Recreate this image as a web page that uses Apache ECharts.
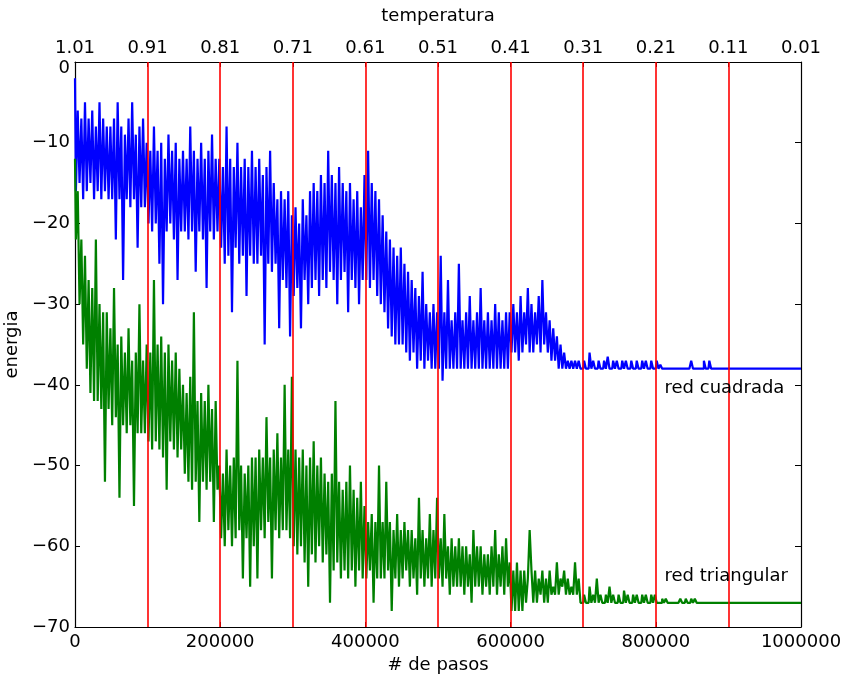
<!DOCTYPE html>
<html><head><meta charset="utf-8">
<script src="https://cdn.jsdelivr.net/npm/echarts@6/dist/echarts.min.js"></script>
<style>html,body{margin:0;padding:0;background:#fff}#c{width:847px;height:676px}</style>
</head><body><div id="c"></div>
<script>
// sampling stride of the recorded runs (# de pasos between samples)
const PASO = 2500;

const energiaCuadrada = [
-2, -16, -6, -15, -7, -17, -5, -16, -7, -15, -6, -17, -8, -16, -5, -17, -7, -16, -8, -17,
-8, -17, -7, -22, -5, -17, -8, -27, -9, -17, -7, -18, -5, -17, -9, -23, -8, -18, -7, -18,
-10, -20, -11, -21, -8, -20, -11, -25, -10, -30, -12, -21, -9, -20, -11, -22, -10, -27, -12, -21,
-11, -21, -12, -22, -8, -21, -11, -26, -12, -21, -10, -22, -12, -28, -11, -21, -9, -22, -12, -21,
-12, -23, -13, -25, -8, -24, -12, -31, -13, -23, -10, -25, -13, -24, -12, -29, -13, -24, -11, -25,
-13, -25, -12, -24, -14, -35, -13, -25, -11, -26, -15, -25, -17, -33, -16, -27, -17, -28, -16, -34,
-19, -29, -18, -28, -20, -33, -17, -27, -19, -30, -16, -28, -15, -27, -16, -29, -14, -27, -15, -28,
-11, -26, -14, -27, -15, -30, -13, -27, -15, -26, -16, -31, -15, -27, -17, -28, -16, -30, -18, -27,
-14, -27, -11, -28, -15, -27, -16, -29, -17, -30, -19, -31, -21, -33, -22, -34, -23, -35, -24, -35,
-23, -35, -25, -36, -26, -37, -27, -36, -28, -38, -29, -37, -26, -38, -30, -37, -31, -38, -30, -38,
-31, -38, -24, -39.5, -31, -38, -27, -38, -32, -38, -31, -38, -25, -38, -32, -38, -31, -38, -29, -38,
-32, -38, -31, -38, -28, -38, -32, -38, -31, -38, -32, -38, -30, -38, -31, -38, -32, -38, -31, -38,
-31, -36, -30, -36, -31, -37, -29, -36, -31, -35, -28, -36, -30, -36, -31, -35, -29, -36, -27, -35,
-31, -36, -32, -37, -33, -37, -34, -38, -35, -38, -36, -38, -37, -38, -37, -38, -37, -38, -37, -38,
-38, -37, -38, -38, -36, -38, -37, -38, -38, -37, -38, -38, -37, -38, -36.5, -38, -38, -37, -38, -37,
-38, -38, -37, -38, -37, -38, -38, -37, -38, -38, -37, -38, -38, -37, -38, -37, -38, -38, -37, -38,
-38, -37, -38, -37.5, -38, -38, -38, -38, -38, -38, -38, -38, -38, -38, -38, -38, -38, -38, -38, -38,
-37, -38, -38, -38, -38, -38, -38, -37, -38, -38, -37, -38, -38, -38, -38, -38, -38, -38, -38, -38,
-38, -38, -38, -38, -38, -38, -38, -38, -38, -38, -38, -38, -38, -38, -38, -38, -38, -38, -38, -38,
-38, -38, -38, -38, -38, -38, -38, -38, -38, -38, -38, -38, -38, -38, -38, -38, -38, -38, -38, -38,
-38
];

const energiaTriangular = [
-12, -22, -16, -30, -22, -35, -24, -38, -27, -41, -28, -42, -22, -42, -30, -43, -31, -52, -31, -43,
-33, -45, -28, -44, -35, -54, -34, -45, -36, -46, -33, -45, -37, -55, -36, -46, -30, -46, -37, -46,
-35, -47, -36, -48, -27, -47, -35, -48, -34, -49, -36, -53, -35, -47, -37, -48, -36, -49, -38, -48,
-40, -51, -41, -52, -39, -53, -31, -52, -42, -57, -41, -52, -42, -53, -40, -52, -43, -57, -42, -53,
-50, -59, -51, -60, -48, -58, -50, -60, -49, -59, -37, -58, -50, -64, -51, -59, -50, -65, -49, -60,
-49, -64, -48, -58, -49, -59, -44, -57, -49, -64, -48, -58, -46, -59, -49, -58, -40, -58, -48, -59,
-39, -60, -48, -61, -49, -60, -48, -62, -50, -65, -49, -61, -47, -62, -50, -60, -49, -62, -51, -61,
-52, -67, -51, -63, -42, -62, -52, -64, -53, -63, -52, -64, -50, -63, -53, -65, -54, -63, -52, -64,
-55, -64, -57, -63, -56, -67, -57, -64, -50, -64, -57, -64, -52, -63, -57, -68, -58, -64, -56, -65,
-58, -64, -57, -63, -58, -65, -58, -64, -59, -66, -54, -64, -58, -65, -59, -64, -56, -65, -58, -64,
-54, -64, -59, -65, -56, -64, -60, -66, -59, -65, -60, -65, -59, -65, -60, -66, -60, -65, -61, -67,
-58, -65, -60, -65, -60, -66, -61, -65, -61, -66, -60, -65, -58, -66, -61, -65, -60, -66, -59, -65,
-62, -68, -63, -68, -62, -68, -63, -68, -63, -67, -64, -58, -63, -67, -63, -67, -64, -66, -63, -67,
-64, -67, -63, -66, -65, -66, -62, -66, -64, -65, -63, -66, -64, -66, -65, -66, -62, -66, -64, -67,
-67, -66, -67, -67, -65, -67, -66, -67, -64, -67, -66, -67, -67, -66, -67, -65, -67, -66, -67, -67,
-66, -67, -67, -65.5, -67, -66, -67, -67, -66, -67, -66, -67, -67, -66, -67, -66, -67, -67, -66, -67,
-66, -67, -67, -67, -66.5, -67, -66.5, -67, -67, -67, -67, -67, -67, -67, -66.5, -67, -67, -66.5, -67, -67,
-66.5, -67, -66.5, -67, -67, -67, -67, -67, -67, -67, -67, -67, -67, -67, -67, -67, -67, -67, -67, -67,
-67, -67, -67, -67, -67, -67, -67, -67, -67, -67, -67, -67, -67, -67, -67, -67, -67, -67, -67, -67,
-67, -67, -67, -67, -67, -67, -67, -67, -67, -67, -67, -67, -67, -67, -67, -67, -67, -67, -67, -67,
-67
];

const temperaturas = ["1.01", "0.91", "0.81", "0.71", "0.61", "0.51", "0.41", "0.31", "0.21", "0.11", "0.01"];
const pasosTemperatura = [100000, 200000, 300000, 400000, 500000, 600000, 700000, 800000, 900000];
const nombresRedes = ["red cuadrada", "red triangular"];

const FONT = 'DejaVu Sans';
const chart = echarts.init(document.getElementById('c'), null, {renderer: 'canvas'});
const minus = v => String(v).replace('-', '\u2212');
const lbl = {color: '#000', fontSize: 18, fontFamily: FONT};

chart.setOption({
  animation: false,
  backgroundColor: '#fff',
  grid: {left: 75, right: 46, top: 62, bottom: 49, containLabel: false, outerBoundsMode: 'none'},
  xAxis: [{
    type: 'value', position: 'bottom', min: 0, max: 1000000, interval: 200000,
    name: '# de pasos', nameLocation: 'middle', nameGap: 25,
    nameTextStyle: {color: '#000', fontSize: 18, fontFamily: FONT},
    axisLine: {show: true, onZero: false, lineStyle: {color: '#000', width: 1.2}},
    axisTick: {show: true, inside: true, length: 5, lineStyle: {color: '#000'}},
    axisLabel: Object.assign({margin: 6, formatter: v => String(v)}, lbl),
    splitLine: {show: false}
  }, {
    type: 'value', position: 'top', min: 0, max: 1000000, interval: 100000,
    name: 'temperatura', nameLocation: 'middle', nameGap: 37,
    nameTextStyle: {color: '#000', fontSize: 18, fontFamily: FONT},
    axisLine: {show: true, onZero: false, lineStyle: {color: '#000', width: 1.2}},
    axisTick: {show: true, inside: true, length: 5, lineStyle: {color: '#000'}},
    axisLabel: Object.assign({margin: 5, formatter: v => temperaturas[Math.round(v / 100000)]}, lbl),
    splitLine: {show: false}
  }],
  yAxis: [{
    type: 'value', position: 'left', min: -70, max: 0, interval: 10,
    name: 'energia', nameLocation: 'middle', nameGap: 45, nameRotate: 90,
    nameTextStyle: {color: '#000', fontSize: 18, fontFamily: FONT},
    axisLine: {show: true, onZero: false, lineStyle: {color: '#000', width: 1.2}},
    axisTick: {show: true, inside: true, length: 5, lineStyle: {color: '#000'}},
    axisLabel: Object.assign({margin: 5,
      formatter: v => v === 0 ? '{z|0}' : minus(v),
      rich: {z: {color: '#000', fontSize: 18, fontFamily: FONT, padding: [12, 0, 0, 0]}}}, lbl),
    splitLine: {show: false}
  }, {
    type: 'value', position: 'right', min: -70, max: 0, interval: 10,
    axisLine: {show: true, onZero: false, lineStyle: {color: '#000', width: 1.2}},
    axisTick: {show: true, inside: true, length: 6, lineStyle: {color: '#000'}},
    axisLabel: {show: false},
    splitLine: {show: false}
  }],
  series: [{
    name: nombresRedes[0], type: 'line', xAxisIndex: 0, yAxisIndex: 0,
    data: energiaCuadrada.map((v, i) => [i * PASO, v]),
    symbol: 'none', sampling: false, z: 2, step: 'middle',
    lineStyle: {color: '#0000ff', width: 2.2}
  }, {
    name: nombresRedes[1], type: 'line', xAxisIndex: 0, yAxisIndex: 0,
    data: energiaTriangular.map((v, i) => [i * PASO, v]),
    symbol: 'none', sampling: false, z: 3, step: 'middle',
    lineStyle: {color: '#008000', width: 2.2},
    markLine: {
      silent: true, symbol: ['none', 'none'], animation: false, z: 5,
      label: {show: false},
      lineStyle: {color: '#ff0000', width: 1.6, type: 'solid'},
      emphasis: {disabled: true},
      data: pasosTemperatura.map(x => ({xAxis: x}))
    }
  }]
});

const anclas = [[812000, -40.4], [812000, -63.7]];
chart.setOption({
  graphic: nombresRedes.map((t, k) => {
    const p = chart.convertToPixel({gridIndex: 0}, anclas[k]);
    return {type: 'text', x: p[0], y: p[1], z: 10,
      style: {text: t, fill: '#000', font: '18px "DejaVu Sans"', textAlign: 'left', textVerticalAlign: 'middle'}};
  })
});
</script>
</body></html>
